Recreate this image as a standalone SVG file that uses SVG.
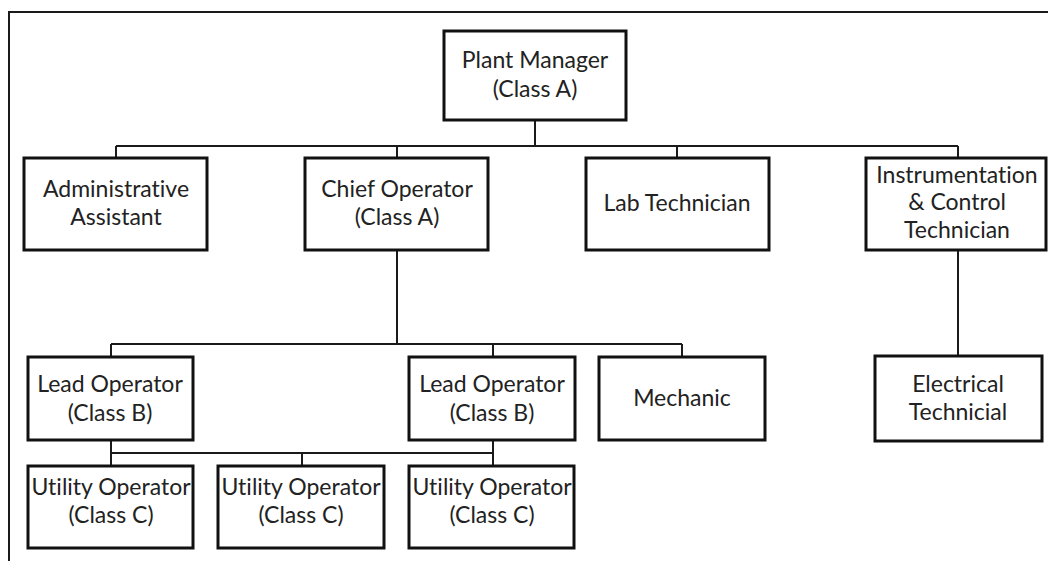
<svg xmlns="http://www.w3.org/2000/svg" width="1048" height="561" viewBox="0 0 1048 561">
<style>
.box{fill:#fff;stroke:#111;stroke-width:3}
.ln{fill:none;stroke:#1a1a1a;stroke-width:2}
.t{font-family:Lato,"Open Sans",sans-serif;font-size:23px;fill:#222;text-anchor:middle;font-variant-ligatures:none}
</style>
<rect width="1048" height="561" fill="#fff"/>
<path class="ln" d="M9,561 V12 H1048" stroke-width="2.5"/>
<g id="connectors">
<path class="ln" d="M535,120 V146 M116,146 H958 M116,146 V158 M397,146 V158 M677,146 V158 M958,146 V158"/>
<path class="ln" d="M397,250 V344 M111,344 H682 M111,344 V357 M493,344 V357 M682,344 V357"/>
<path class="ln" d="M958,250 V356"/>
<path class="ln" d="M111,440 V466 M111,453 H493 M302,453 V466 M493,440 V466"/>
</g>
<g id="plant-manager"><rect class="box" x="444" y="31" width="182" height="89"/><text class="t" x="535" y="68">Plant Manager</text><text class="t" x="535" y="97">(Class A)</text></g>
<g id="admin-assistant"><rect class="box" x="24" y="158" width="183" height="92"/><text class="t" x="116" y="197">Administrative</text><text class="t" x="116" y="225">Assistant</text></g>
<g id="chief-operator"><rect class="box" x="305" y="158" width="183" height="92"/><text class="t" x="397" y="197">Chief Operator</text><text class="t" x="397" y="225">(Class A)</text></g>
<g id="lab-technician"><rect class="box" x="586" y="158" width="183" height="92"/><text class="t" x="677" y="211">Lab Technician</text></g>
<g id="ic-technician"><rect class="box" x="866" y="158" width="180" height="92"/><text class="t" x="957" y="183">Instrumentation</text><text class="t" x="957" y="210">&amp; Control</text><text class="t" x="957" y="238">Technician</text></g>
<g id="lead-operator-1"><rect class="box" x="28" y="357" width="165" height="83"/><text class="t" x="110" y="392">Lead Operator</text><text class="t" x="110" y="421">(Class B)</text></g>
<g id="lead-operator-2"><rect class="box" x="409" y="357" width="166" height="83"/><text class="t" x="492" y="392">Lead Operator</text><text class="t" x="492" y="421">(Class B)</text></g>
<g id="mechanic"><rect class="box" x="599" y="357" width="166" height="83"/><text class="t" x="682" y="406">Mechanic</text></g>
<g id="electrical-technician"><rect class="box" x="875" y="356" width="167" height="85"/><text class="t" x="958" y="392">Electrical</text><text class="t" x="958" y="420">Technicial</text></g>
<g id="utility-operator-1"><rect class="box" x="28" y="466" width="165" height="82"/><text class="t" x="111" y="495">Utility Operator</text><text class="t" x="111" y="523">(Class C)</text></g>
<g id="utility-operator-2"><rect class="box" x="218" y="466" width="166" height="82"/><text class="t" x="301" y="495">Utility Operator</text><text class="t" x="301" y="523">(Class C)</text></g>
<g id="utility-operator-3"><rect class="box" x="409" y="466" width="165" height="82"/><text class="t" x="492" y="495">Utility Operator</text><text class="t" x="492" y="523">(Class C)</text></g>
</svg>
